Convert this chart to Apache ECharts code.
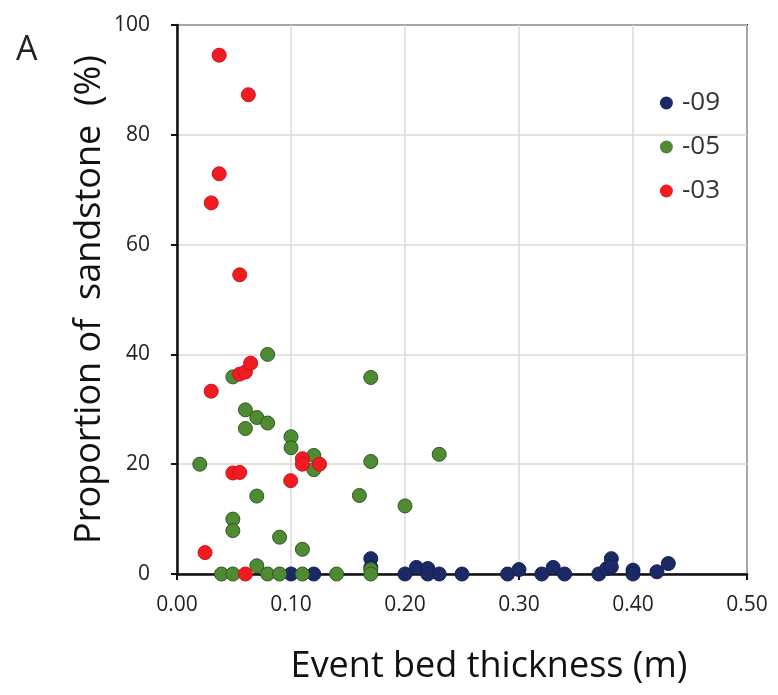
<!DOCTYPE html>
<html><head><meta charset="utf-8">
<script src="https://cdn.jsdelivr.net/npm/echarts@6/dist/echarts.min.js"></script>
<style>html,body{margin:0;padding:0;background:#fff}#c{width:778px;height:695px}</style>
</head><body><div id="c"></div>
<script>
const seriesNames = ['-09', '-05', '-03'];
const xTicks = ['0.00','0.10','0.20','0.30','0.40','0.50'];
const yTicks = ['0','20','40','60','80','100'];
const s09 = [[0.10,0],[0.12,0],[0.17,2.8],[0.17,1.2],[0.20,0],[0.21,1.2],[0.22,1],[0.22,0],[0.23,0],[0.25,0],[0.29,0],[0.30,0.8],[0.32,0],[0.33,1.2],[0.34,0],[0.37,0],[0.377,1],[0.381,2.8],[0.381,1.3],[0.40,0.7],[0.40,0],[0.421,0.4],[0.431,1.9]];
const s05 = [[0.0795,40],[0.049,35.9],[0.06,29.9],[0.07,28.5],[0.0795,27.5],[0.06,26.5],[0.10,25],[0.10,23],[0.12,21.6],[0.12,19],[0.02,20],[0.07,14.2],[0.049,10],[0.049,7.9],[0.09,6.7],[0.11,4.5],[0.07,1.5],[0.039,0],[0.049,0],[0.0795,0],[0.09,0],[0.11,0],[0.14,0],[0.17,35.8],[0.17,20.5],[0.23,21.8],[0.16,14.3],[0.20,12.4],[0.17,0.8],[0.17,0]];
const s03 = [[0.037,94.5],[0.0626,87.3],[0.037,72.9],[0.030,67.6],[0.055,54.5],[0.030,33.3],[0.055,36.4],[0.060,36.8],[0.0646,38.4],[0.11,21],[0.11,20],[0.125,20],[0.049,18.4],[0.055,18.5],[0.0997,17],[0.0246,3.9],[0.060,0]];
const colors = ['#1b2a66', '#4f8a34', '#f01c22'];
const borders = ['#142050', '#2f5a1e', '#d01018'];
const FONT = 'Open Sans';
const chart = echarts.init(document.getElementById('c'), null, {renderer:'canvas'});
const mk = (name, data, i) => ({
  name, type:'scatter', data, symbolSize:14,
  itemStyle:{color:colors[i], borderColor:borders[i], borderWidth:1, opacity:1}
});
chart.setOption({
  animation:false,
  backgroundColor:'#fff',
  title:{text:'A', left:11, top:28, textStyle:{fontFamily:FONT, fontSize:34, fontWeight:'normal', color:'#222'}},
  grid:{left:177, right:31, top:25, bottom:121, show:true, borderColor:'#111', borderWidth:2, containLabel:false},
  legend:{orient:'vertical', right:53, top:85, itemGap:18, itemWidth:13, itemHeight:13,
    textStyle:{fontFamily:FONT, fontSize:26, color:'#333', padding:[0,0,0,4]}, data:seriesNames.map((n,i)=>({name:n, icon:'circle', itemStyle:{color:colors[i], borderWidth:0}}))},
  xAxis:{type:'value', min:0, max:0.5, interval:0.1,
    name:'Event bed thickness (m)', nameLocation:'middle', nameGap:75, nameMoveOverlap:false,
    nameTextStyle:{fontFamily:FONT, fontSize:36, color:'#111', padding:[0,0,0,54]},
    axisLine:{show:true, onZero:false, lineStyle:{color:'#111', width:2.5}},
    axisTick:{show:true, length:6, lineStyle:{color:'#111', width:2}},
    axisLabel:{fontFamily:FONT, fontSize:21, color:'#222', margin:21, formatter:(v)=>xTicks[Math.round(v*10)]},
    splitLine:{show:true, lineStyle:{color:'#d9d9d9', width:1.5}}},
  yAxis:{type:'value', min:0, max:100, interval:20,
    name:'Proportion of  sandstone  (%)', nameLocation:'middle', nameGap:69, nameMoveOverlap:false,
    nameTextStyle:{fontFamily:FONT, fontSize:36, color:'#111'},
    axisLine:{show:true, onZero:false, lineStyle:{color:'#111', width:2.5}},
    axisTick:{show:true, length:6, lineStyle:{color:'#111', width:2}},
    axisLabel:{fontFamily:FONT, fontSize:21, color:'#222', margin:27, formatter:(v)=>yTicks[Math.round(v/20)]},
    splitLine:{show:true, lineStyle:{color:'#d9d9d9', width:1.5}}},
  series:[mk(seriesNames[0], s09, 0), mk(seriesNames[1], s05, 1), mk(seriesNames[2], s03, 2)]
});
</script></body></html>
